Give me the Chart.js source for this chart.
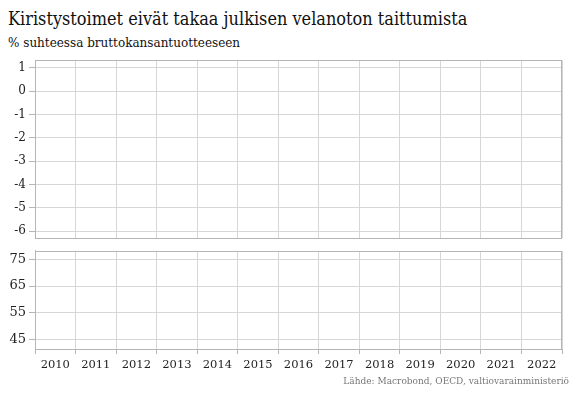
<!DOCTYPE html>
<html>
<head>
<meta charset="utf-8">
<script src="https://cdn.jsdelivr.net/npm/chart.js@4/dist/chart.umd.min.js"></script>
<style>
  html, body { margin: 0; padding: 0; background: #fff; }
  #wrap { position: relative; width: 580px; height: 400px; overflow: hidden; font-family: "DejaVu Serif", serif; }
  #title { position: absolute; left: 8px; top: 7px; font-size: 19px; color: #111; white-space: nowrap; transform: scaleX(0.85); transform-origin: 0 0; }
  #sub { position: absolute; left: 8px; top: 36px; font-size: 12px; color: #111; white-space: nowrap; }
  #src { position: absolute; right: 11px; top: 376px; font-size: 9px; color: #777; white-space: nowrap; }
  #c1 { position: absolute; left: 0; top: 50px; }
  #c2 { position: absolute; left: 0; top: 240px; }
</style>
</head>
<body>
<div id="wrap">
  <div id="title">Kiristystoimet eivät takaa julkisen velanoton taittumista</div>
  <div id="sub">% suhteessa bruttokansantuotteeseen</div>
  <canvas id="c1" width="580" height="200"></canvas>
  <canvas id="c2" width="580" height="160"></canvas>
  <div id="src">Lähde: Macrobond, OECD, valtiovarainministeriö</div>
</div>
<script>
// Data
const years = ["2010","2011","2012","2013","2014","2015","2016","2017","2018","2019","2020","2021","2022"];
const balanceTicks = [1, 0, -1, -2, -3, -4, -5, -6];
const debtGrid = [45, 50, 55, 60, 65, 70, 75];
const debtLabels = [45, 55, 65, 75];
// No series lines are visible in the reference picture
const balanceSeries = [];
const debtSeries = [];

const FONT = "'DejaVu Serif', serif";
const GRID = '#d6d6d6';
const AXIS = '#b5b5b5';

const frame = {
  id: 'frame',
  afterDraw(chart) {
    const a = chart.chartArea, ctx = chart.ctx;
    ctx.save();
    ctx.strokeStyle = AXIS;
    ctx.lineWidth = 1;
    ctx.strokeRect(Math.round(a.left) + 0.5, Math.round(a.top) + 0.5, Math.round(a.right - a.left) - 1, Math.round(a.bottom - a.top));
    ctx.restore();
  }
};

function yFit(scale) { scale.width = 35; }

new Chart(document.getElementById('c1'), {
  type: 'line',
  data: { labels: years, datasets: [{ data: balanceSeries, borderColor: '#000', pointRadius: 0 }] },
  options: {
    responsive: false, animation: false,
    layout: { padding: { top: 7, bottom: 12, right: 18, left: 0 } },
    plugins: { legend: { display: false }, tooltip: { enabled: false } },
    scales: {
      x: {
        type: 'category', offset: true,
        grid: { offset: true, color: GRID, drawTicks: false },
        border: { display: false },
        ticks: { display: false },
        afterFit(s) { s.height = 0; }
      },
      y: {
        min: -6.3, max: 1.33,
        afterBuildTicks(s) { s.ticks = balanceTicks.map(v => ({ value: v })); },
        afterFit: yFit,
        grid: { color: GRID, tickLength: 6, tickColor: AXIS },
        border: { color: AXIS },
        ticks: { color: '#222', font: { family: FONT, size: 12 }, padding: 3, callback: v => String(v) }
      }
    }
  },
  plugins: [frame]
});

new Chart(document.getElementById('c2'), {
  type: 'line',
  data: { labels: years, datasets: [{ data: debtSeries, borderColor: '#000', pointRadius: 0 }] },
  options: {
    responsive: false, animation: false,
    layout: { padding: { top: 4, bottom: 0, right: 18, left: 0 } },
    plugins: { legend: { display: false }, tooltip: { enabled: false } },
    scales: {
      x: {
        type: 'category', offset: true,
        grid: { offset: true, color: GRID, tickLength: 5, tickColor: AXIS },
        border: { color: AXIS },
        ticks: { color: '#222', font: { family: FONT, size: 11.5 }, padding: 4, maxRotation: 0, autoSkip: false },
        afterFit(s) { s.height = 51; }
      },
      y: {
        min: 41.5, max: 78.2,
        afterBuildTicks(s) { s.ticks = debtGrid.map(v => ({ value: v })); },
        afterFit: yFit,
        grid: { color: GRID, tickLength: 6, tickColor: AXIS },
        border: { color: AXIS },
        ticks: { color: '#222', font: { family: FONT, size: 13 }, padding: 3,
          callback: v => debtLabels.includes(v) ? String(v) : '' }
      }
    }
  },
  plugins: [frame]
});
</script>
</body>
</html>
